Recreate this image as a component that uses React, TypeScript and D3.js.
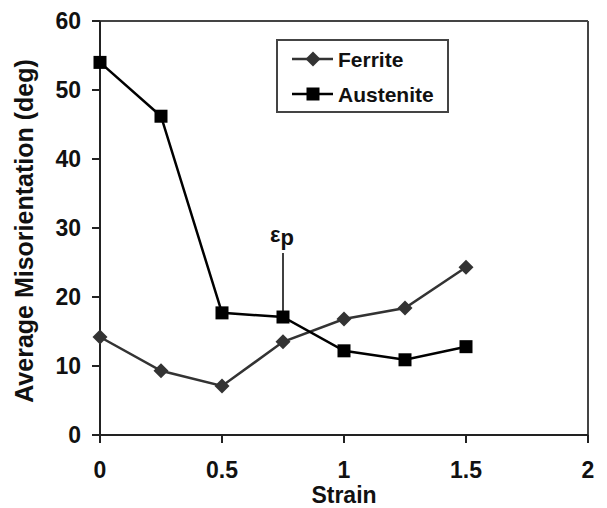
import React from 'react'
import * as d3 from 'd3'

const strain = [0, 0.25, 0.5, 0.75, 1, 1.25, 1.5]
const ferrite = [14.2, 9.3, 7.1, 13.5, 16.8, 18.4, 24.3]
const austenite = [54, 46.2, 17.7, 17.1, 12.2, 10.9, 12.8]
const xTicks = [0, 0.5, 1, 1.5, 2]
const yTicks = [0, 10, 20, 30, 40, 50, 60]
const seriesNames = ['Ferrite', 'Austenite']
// strain at which the peak annotation sits
const epsP = 0.75

const width = 607
const height = 508
const margin = { top: 21, right: 19, bottom: 73, left: 100 }

const styles = {
  font: 'Liberation Sans, Arial, Helvetica, sans-serif',
  frame: '#444',
  axis: '#222',
  ferrite: '#333',
  austenite: '#000',
}

export default function App() {
  const x = d3
    .scaleLinear()
    .domain([0, 2])
    .range([margin.left, width - margin.right])
  const y = d3
    .scaleLinear()
    .domain([0, 60])
    .range([height - margin.bottom, margin.top])

  const line = d3
    .line<number>()
    .x((d, i) => x(strain[i]))
    .y(d => y(d))

  const diamond = (cx: number, cy: number, r: number) =>
    `M${cx},${cy - r}L${cx + r},${cy}L${cx},${cy + r}L${cx - r},${cy}Z`

  const x0 = x(0)
  const y0 = y(0)
  const pAus = austenite[strain.indexOf(epsP)]

  return (
    <svg
      width={width}
      height={height}
      style={{ position: 'absolute', left: 0, top: 0, background: '#fff' }}
      fontFamily={styles.font}
      fontWeight="bold"
    >
      {/* frame */}
      <line x1={x0} x2={x(2)} y1={y(60)} y2={y(60)} stroke={styles.frame} strokeWidth={2} />
      <line x1={x(2)} x2={x(2)} y1={y(60)} y2={y0} stroke={styles.frame} strokeWidth={2} />

      {/* axes */}
      <line x1={x0} x2={x(2)} y1={y0} y2={y0} stroke={styles.axis} strokeWidth={2} />
      <line x1={x0} x2={x0} y1={y(60)} y2={y0} stroke={styles.axis} strokeWidth={2} />

      {yTicks.map(t => (
        <g key={'y' + t}>
          <line x1={x0 - 8} x2={x0} y1={y(t)} y2={y(t)} stroke={styles.axis} strokeWidth={2} />
          <text x={x0 - 19} y={y(t)} dy="0.36em" textAnchor="end" fontSize={23} fill="#111">
            {t}
          </text>
        </g>
      ))}
      {xTicks.map(t => (
        <g key={'x' + t}>
          <line x1={x(t)} x2={x(t)} y1={y0} y2={y0 + 8} stroke={styles.axis} strokeWidth={2} />
          <text x={x(t)} y={477.5} textAnchor="middle" fontSize={23} fill="#111">
            {t}
          </text>
        </g>
      ))}

      <text x={x(1)} y={503} textAnchor="middle" fontSize={23} fill="#111">
        Strain
      </text>
      <text
        transform={`translate(33,231) rotate(-90)`}
        textAnchor="middle"
        fontSize={25}
        fill="#111"
      >
        Average Misorientation (deg)
      </text>

      {/* annotation */}
      <line x1={x(epsP)} x2={x(epsP)} y1={253} y2={y(pAus)} stroke="#000" strokeWidth={1.5} />
      <text x={x(epsP) - 1} y={242} textAnchor="middle" fontSize={22} fill="#111">
        ε<tspan dy={3}>p</tspan>
      </text>

      {/* series */}
      <path d={line(ferrite) || ''} fill="none" stroke={styles.ferrite} strokeWidth={2.5} />
      <path d={line(austenite) || ''} fill="none" stroke={styles.austenite} strokeWidth={2.5} />

      {ferrite.map((v, i) => (
        <path key={'f' + i} d={diamond(x(strain[i]), y(v), 7.5)} fill={styles.ferrite} />
      ))}
      {austenite.map((v, i) => (
        <rect
          key={'a' + i}
          x={x(strain[i]) - 6.5}
          y={y(v) - 6.5}
          width={13}
          height={13}
          fill={styles.austenite}
        />
      ))}

      {/* legend */}
      <rect x={277} y={40} width={171} height={72} fill="#fff" stroke={styles.frame} strokeWidth={2} />
      {seriesNames.map((name, i) => {
        const ly = 59 + i * 35
        return (
          <g key={name}>
            <line
              x1={292}
              x2={333}
              y1={ly}
              y2={ly}
              stroke={i === 0 ? styles.ferrite : styles.austenite}
              strokeWidth={2.5}
            />
            {i === 0 ? (
              <path d={diamond(313, ly, 7.5)} fill={styles.ferrite} />
            ) : (
              <rect x={306.5} y={ly - 6.5} width={13} height={13} fill={styles.austenite} />
            )}
            <text x={338} y={ly} dy="0.36em" fontSize={21} fill="#111">
              {name}
            </text>
          </g>
        )
      })}
    </svg>
  )
}
